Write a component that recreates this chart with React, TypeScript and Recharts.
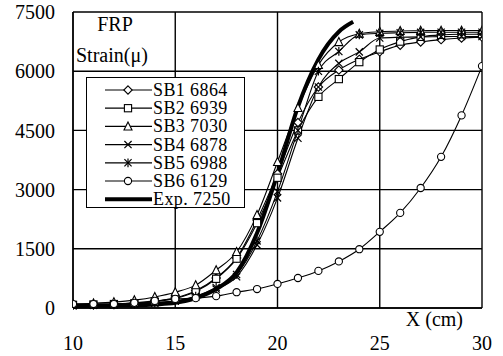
import { LineChart, Line, XAxis, YAxis, CartesianGrid, Legend, Label } from "recharts";

const xs = [10, 11, 12, 13, 14, 15, 16, 17, 18, 19, 20, 21, 22, 23, 24, 25, 26, 27, 28, 29, 30];
const sb1 = [80, 90, 100, 130, 170, 260, 440, 760, 1270, 2230, 3400, 4700, 5600, 6030, 6300, 6490, 6660, 6740, 6800, 6840, 6864];
const sb2 = [80, 90, 100, 120, 160, 240, 420, 740, 1250, 2150, 3300, 4500, 5350, 5800, 6230, 6550, 6750, 6870, 6920, 6935, 6939];
const sb3 = [100, 120, 150, 200, 280, 400, 580, 960, 1420, 2360, 3700, 5070, 6160, 6740, 6950, 7000, 7020, 7025, 7030, 7030, 7030];
const sb4 = [60, 70, 80, 100, 130, 180, 280, 480, 790, 1600, 2790, 4300, 5600, 6200, 6490, 6840, 6860, 6870, 6875, 6878, 6878];
const sb5 = [60, 70, 80, 100, 130, 180, 300, 520, 850, 1700, 2950, 4500, 6000, 6500, 6920, 6960, 6975, 6985, 6988, 6988, 6988];
const sb6 = [100, 100, 100, 130, 180, 230, 250, 300, 400, 480, 610, 760, 940, 1180, 1490, 1930, 2410, 3040, 3830, 4880, 6129];

const expX = [10, 11, 12, 13, 14, 15, 16, 17, 18, 19, 20, 21, 22, 23, 23.7];
const expY = [50, 55, 60, 70, 90, 130, 250, 480, 900, 1900, 3400, 5100, 6300, 7000, 7250];

const xTicks = [10, 15, 20, 25, 30];
const yTicks = [0, 1500, 3000, 4500, 6000, 7500];

const series = [
  { key: "sb1", name: "SB1 6864", marker: "diamond", values: sb1 },
  { key: "sb2", name: "SB2 6939", marker: "square", values: sb2 },
  { key: "sb3", name: "SB3 7030", marker: "triangle", values: sb3 },
  { key: "sb4", name: "SB4 6878", marker: "cross", values: sb4 },
  { key: "sb5", name: "SB5 6988", marker: "star", values: sb5 },
  { key: "sb6", name: "SB6 6129", marker: "circle", values: sb6 },
];

const rows = xs.map((x, i) => {
  const row: Record<string, number> = { x };
  series.forEach((s) => (row[s.key] = s.values[i]));
  return row;
});
const expRows = expX.map((x, i) => ({ x, exp: expY[i] }));

const FONT = "Liberation Serif";

function Marker({ kind, cx, cy }: { kind: string; cx: number; cy: number }) {
  const r = 3.6;
  const st = { fill: "#fff", stroke: "#000", strokeWidth: 1.1 };
  if (cx == null || cy == null) return null;
  switch (kind) {
    case "diamond":
      return <polygon points={`${cx},${cy - r - 0.6} ${cx + r + 0.6},${cy} ${cx},${cy + r + 0.6} ${cx - r - 0.6},${cy}`} {...st} />;
    case "square":
      return <rect x={cx - r} y={cy - r} width={2 * r} height={2 * r} {...st} />;
    case "triangle":
      return <polygon points={`${cx},${cy - r - 0.8} ${cx + r + 0.4},${cy + r} ${cx - r - 0.4},${cy + r}`} {...st} />;
    case "cross":
      return (
        <g stroke="#000" strokeWidth={1.2}>
          <line x1={cx - r} y1={cy - r} x2={cx + r} y2={cy + r} />
          <line x1={cx - r} y1={cy + r} x2={cx + r} y2={cy - r} />
        </g>
      );
    case "star":
      return (
        <g stroke="#000" strokeWidth={1.2}>
          <line x1={cx - r} y1={cy - r} x2={cx + r} y2={cy + r} />
          <line x1={cx - r} y1={cy + r} x2={cx + r} y2={cy - r} />
          <line x1={cx} y1={cy - r - 0.8} x2={cx} y2={cy + r + 0.8} />
        </g>
      );
    default:
      return <circle cx={cx} cy={cy} r={r} {...st} />;
  }
}

const legendItems = [...series.map((s) => ({ name: s.name, marker: s.marker, thick: false })), { name: "Exp. 7250", marker: "", thick: true }];

const renderLegend = () => (
  <svg width={160} height={131} style={{ display: "block", overflow: "visible" }}>
    <rect x={0.5} y={0.5} width={158} height={130} fill="#fff" stroke="#000" strokeWidth={1} />
    {legendItems.map((s, i) => {
      const y = 13 + i * 18.2;
      return (
        <g key={s.name}>
          <line x1={19} x2={66} y1={y} y2={y} stroke="#000" strokeWidth={s.thick ? 4 : 1.2} />
          {s.marker && <Marker kind={s.marker} cx={42} cy={y} />}
          <text x={67} y={y} dominantBaseline="central" fontSize={18} letterSpacing={0.4} fontFamily={FONT} fill="#000">
            {s.name}
          </text>
        </g>
      );
    })}
  </svg>
);

export default function App() {
  return (
    <div style={{ position: "absolute", left: 0, top: 0, background: "#fff" }}>
      <LineChart width={503} height={356} margin={{ top: 12, right: 21, left: 0, bottom: 0 }}>
        <CartesianGrid stroke="#000" strokeWidth={1.4} />
        <XAxis
          type="number"
          dataKey="x"
          domain={[10, 30]}
          ticks={xTicks}
          allowDataOverflow
          height={48}
          axisLine={{ stroke: "#000", strokeWidth: 1.4 }}
          tickLine={false}
          tickSize={0}
          tickMargin={28}
          tick={{ fontSize: 20, fill: "#000", fontFamily: FONT }}
        >
          <Label
            content={(p: any) => {
              const vb = p.viewBox || { x: 73, y: 308, width: 409 };
              return (
                <text x={vb.x + vb.width - 19} y={vb.y + 11} textAnchor="end" dominantBaseline="central" fontSize={20} fontFamily={FONT} fill="#000">
                  X (cm)
                </text>
              );
            }}
          />
        </XAxis>
        <YAxis
          type="number"
          domain={[0, 7500]}
          ticks={yTicks}
          width={73}
          axisLine={{ stroke: "#000", strokeWidth: 1.4 }}
          tickLine={false}
          tickSize={0}
          tickMargin={18}
          tick={{ fontSize: 20, fill: "#000", fontFamily: FONT }}
        >
          <Label
            content={(p: any) => {
              const vb = p.viewBox || { x: 0, y: 12, width: 73 };
              const left = vb.x + vb.width;
              return (
                <g>
                  <text x={left + 42} y={vb.y + 12} textAnchor="middle" dominantBaseline="central" fontSize={20} fontFamily={FONT} fill="#000">
                    FRP
                  </text>
                  <text x={left + 3} y={vb.y + 43} dominantBaseline="central" fontSize={20} fontFamily={FONT} fill="#000">
                    Strain(μ)
                  </text>
                </g>
              );
            }}
          />
        </YAxis>
        <Legend
          layout="horizontal"
          verticalAlign="middle"
          align="center"
          content={renderLegend}
          wrapperStyle={{ left: 86, top: 77, width: 160, height: 131 }}
        />
        {series.map((s) => (
          <Line
            key={s.key}
            data={rows}
            dataKey={s.key}
            name={s.name}
            type="monotone"
            stroke="#000"
            strokeWidth={1.1}
            isAnimationActive={false}
            dot={(p: any) => <Marker key={`${s.key}-${p.index}`} kind={s.marker} cx={p.cx} cy={p.cy} />}
            activeDot={false}
          />
        ))}
        <Line
          data={expRows}
          dataKey="exp"
          name="Exp. 7250"
          type="monotone"
          stroke="#000"
          strokeWidth={4}
          dot={false}
          activeDot={false}
          isAnimationActive={false}
        />
      </LineChart>
    </div>
  );
}
